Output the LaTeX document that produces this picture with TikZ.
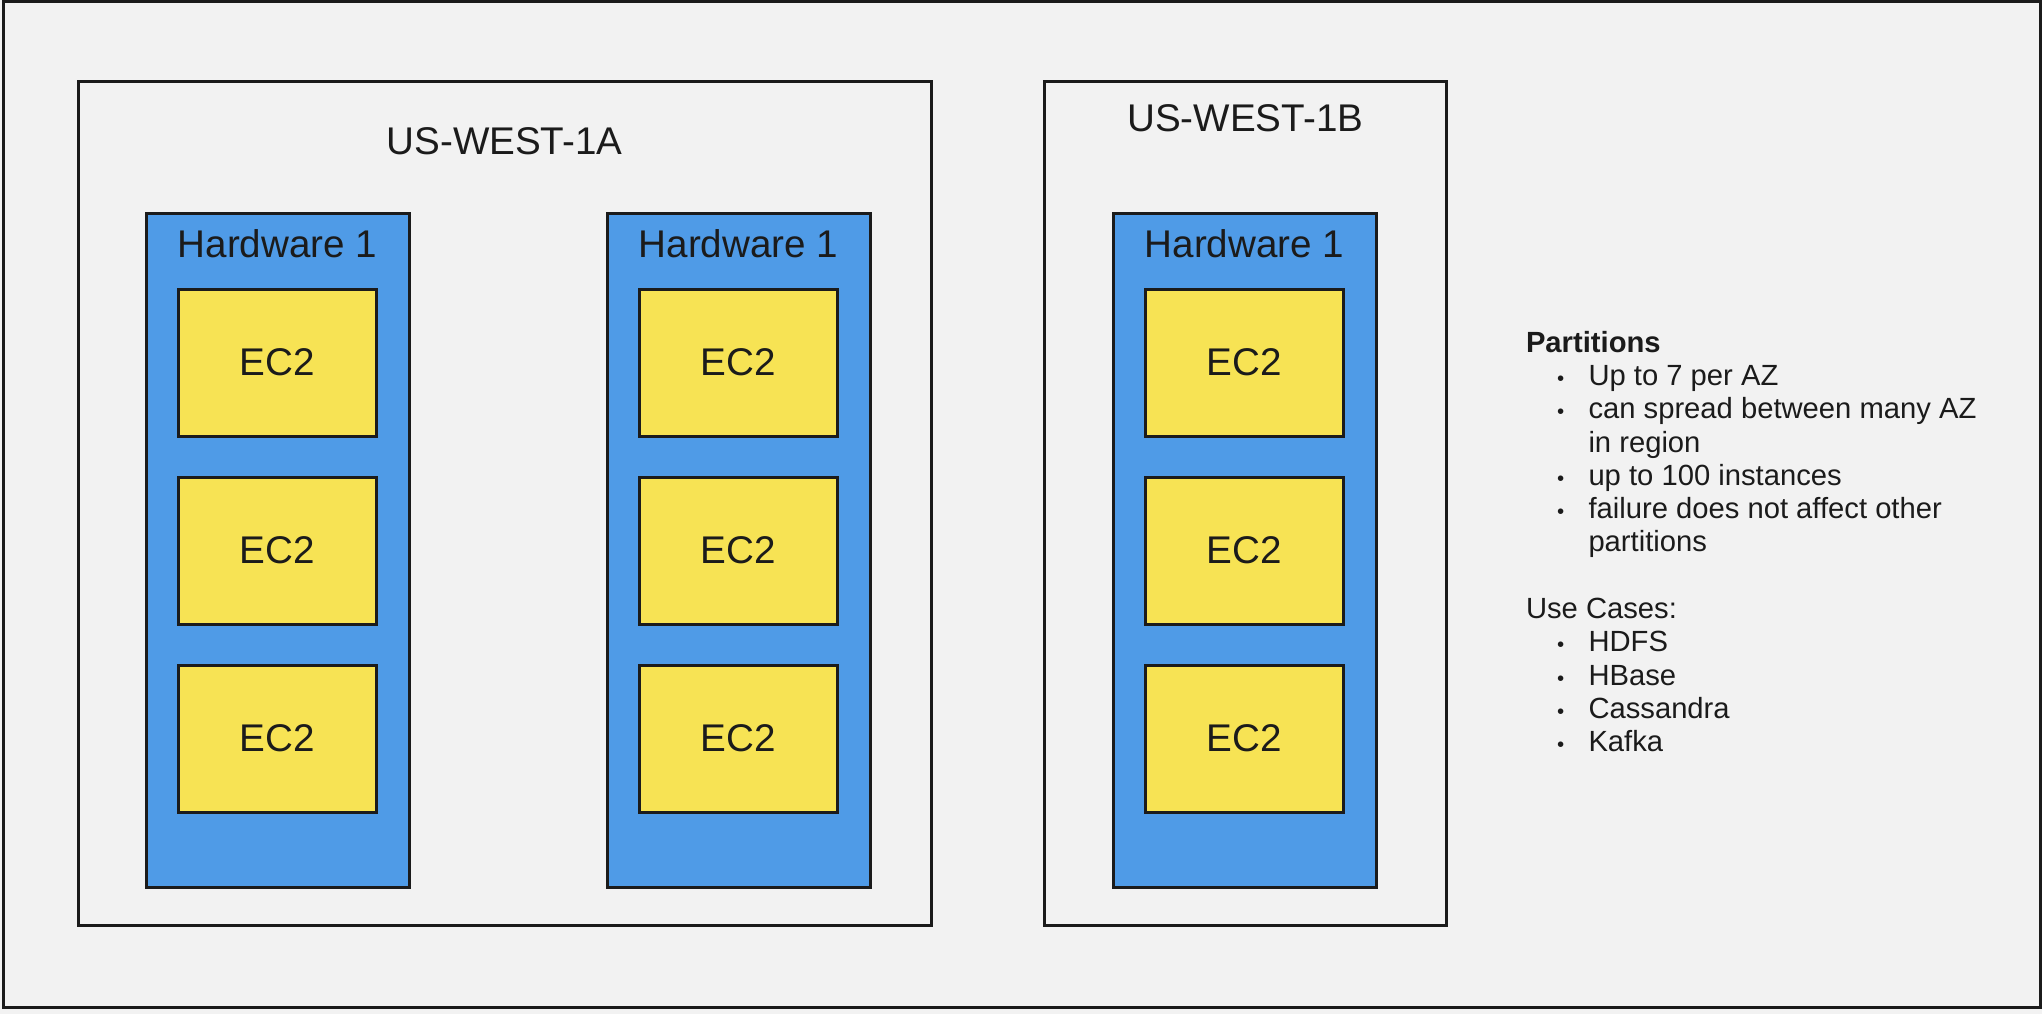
\documentclass[tikz,border=0pt]{standalone}
\usepackage{fontspec}
\setmainfont{Liberation Sans}
\usetikzlibrary{positioning}
\definecolor{bggray}{RGB}{242,242,242}
\definecolor{hwblue}{RGB}{79,155,231}
\definecolor{ecyellow}{RGB}{247,227,84}
\definecolor{ink}{RGB}{27,27,27}
\newcommand{\bul}{\hspace*{15.5pt}\makebox[15.75pt][l]{\scalebox{0.7}{\textbullet}}}
\newcommand{\wrapgap}{\hspace*{31.25pt}}

\begin{document}
\begin{tikzpicture}[x=0.5pt, y=-0.5pt, line width=1.5pt,
    every node/.style = {text=ink, inner sep=0pt, outer sep=0pt,
      font=\fontsize{19.3}{23}\selectfont},
    azbox/.style = {draw=ink, fill=bggray},
    hwbox/.style = {draw=ink, fill=hwblue, minimum width=131.5pt, minimum height=336.75pt},
    ecbox/.style = {draw=ink, fill=ecyellow, minimum width=99pt, minimum height=73.5pt},
    notes/.style = {align=left, font=\fontsize{14.6}{16.65}\selectfont}]
  \useasboundingbox (0,0) rectangle (2042,1014);
  \fill[bggray] (0,0) rectangle (2042,1014);
  \node[azbox, minimum width=1018.5pt, minimum height=502.75pt] (region) at (1021.5,504.25) {};
  % availability zones
  \node[azbox, minimum width=426.5pt, minimum height=422pt] (az1a) at (504.5,503) {};
  \node[azbox, minimum width=200.75pt, minimum height=422pt] (az1b) at (1245.25,503) {};
  \node[below=23.5pt of az1a.north] (az1a-label) {US-WEST-1A};
  \node[below=12pt of az1b.north] (az1b-label) {US-WEST-1B};
  % hardware
  \node[hwbox, below right=66.25pt and 34pt of az1a.north west] (hw1) {};
  \node[hwbox, right=99pt of hw1] (hw2) {};
  \node[hwbox, below right=66.25pt and 34.25pt of az1b.north west] (hw3) {};
  \foreach \hw in {hw1,hw2,hw3} {
    \node[below=8.25pt of \hw.north] (\hw-label) {Hardware 1};
    \node[ecbox, below=37.75pt of \hw.north] (\hw-ec1) {EC2};
    \node[ecbox, below=20.5pt of \hw-ec1] (\hw-ec2) {EC2};
    \node[ecbox, below=20.5pt of \hw-ec2] (\hw-ec3) {EC2};
  }
  \node[notes, anchor=north west] (notes) at (1526,331) {\textbf{Partitions}\\
    \bul Up to 7 per AZ\\
    \bul can spread between many AZ\\
    \wrapgap in region\\
    \bul up to 100 instances\\
    \bul failure does not affect other\\
    \wrapgap partitions\\[16.65pt]
    Use Cases:\\
    \bul HDFS\\
    \bul HBase\\
    \bul Cassandra\\
    \bul Kafka};
\end{tikzpicture}
\end{document}
